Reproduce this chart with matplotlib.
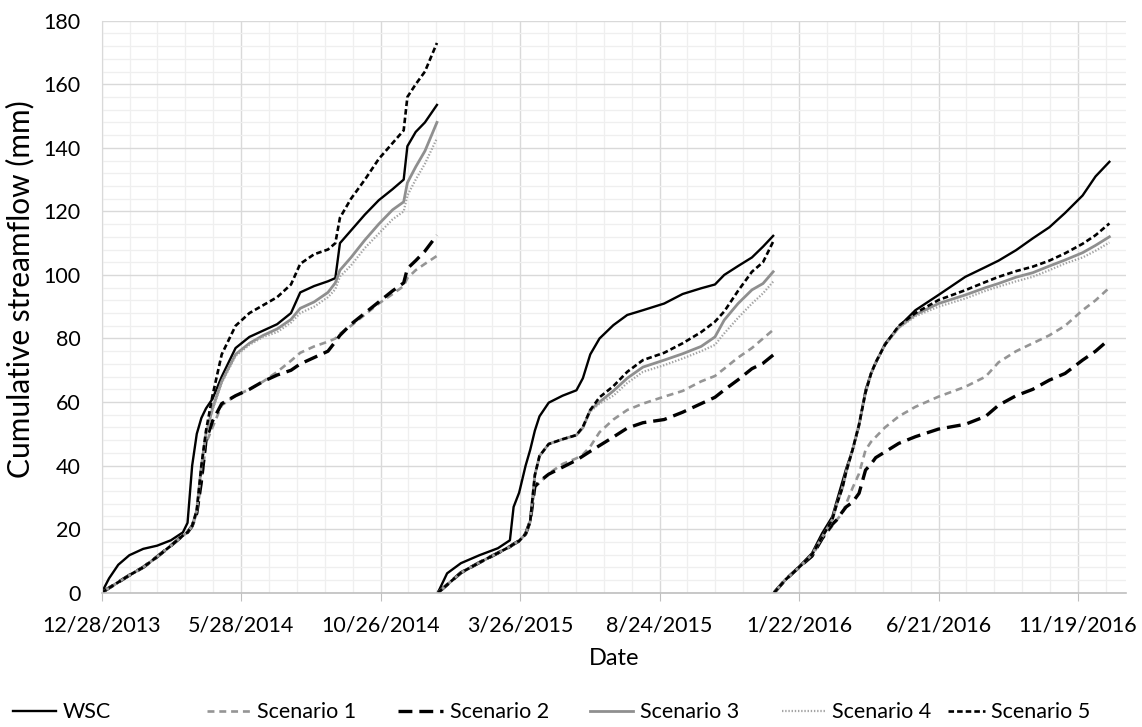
import numpy as np
import matplotlib
matplotlib.use("Agg")
import matplotlib.pyplot as plt
import matplotlib.dates as mdates
from matplotlib.ticker import FixedLocator, MultipleLocator, FixedFormatter

plt.rcParams['font.family'] = ['Lato', 'DejaVu Sans']
plt.rcParams['lines.scale_dashes'] = False

# each year of record is plotted as its own cumulative curve
seg_start = ['2013-12-28', '2014-12-27', '2015-12-26']

days1 = [0, 8, 18, 30, 45, 60, 75, 88, 93, 98, 103, 108, 113, 120, 130, 145, 160, 175, 190, 205,
         215, 230, 245, 253, 258, 270, 285, 300, 315, 327, 331, 340, 350, 363]
wsc1 = [0, 4.5, 8.8, 11.8, 13.8, 14.8, 16.5, 19, 22, 40, 50, 55, 58, 61, 68, 77, 80.5, 82.5, 84.5, 88,
        94.5, 96.5, 98, 99, 110, 114, 119, 123.5, 127, 130, 140.5, 145, 148, 153.5]
sc1_1 = [0, 1.5, 3.3, 5.5, 8, 11.3, 14.8, 18, 19, 21, 25, 35, 47, 52, 59, 62, 64, 66.5, 69.5, 73,
         75.5, 77.5, 79, 80, 81.5, 84, 87.5, 91, 94, 96.5, 99, 101.5, 103.5, 106]
sc2_1 = [0, 1.5, 3.3, 5.5, 8, 11.3, 14.8, 18, 19, 21, 25, 35, 48, 54, 59.5, 62, 64, 66.5, 68.5, 70,
         72, 74, 76, 79, 81, 84.5, 88, 91.5, 95, 97.5, 102, 104.5, 107.5, 112.5]
sc3_1 = [0, 1.5, 3.3, 5.5, 8, 11.3, 14.8, 18, 19, 21, 26, 40, 50, 58, 66.5, 75, 78.5, 81, 83, 86,
         89.5, 91.5, 94.5, 97.5, 101.5, 105.5, 111, 116, 120.5, 123, 129, 134, 139, 148]
sc4_1 = [0, 1.5, 3.3, 5.5, 8, 11.3, 14.8, 18, 19, 21, 26, 40, 50, 57.5, 66, 74.5, 78, 80.5, 82, 85,
         88, 90, 93, 95.5, 99.5, 103, 108.5, 113, 117.5, 120, 125, 130, 135, 143]
sc5_1 = [0, 1.5, 3.3, 5.5, 8, 11.3, 14.8, 18, 19, 21, 26, 40, 51, 62, 75, 84, 88, 90.5, 93, 97,
         103.5, 106.5, 108, 110, 118, 124, 130, 136.5, 141.5, 145.5, 156, 160, 164, 173]

days2 = [0, 10, 25, 45, 65, 78, 82, 88, 95, 100, 105, 110, 120, 135, 150, 157, 165, 175, 190, 205,
         222, 245, 265, 285, 300, 310, 325, 340, 352, 363]
wsc2 = [0, 6.1, 9.3, 11.8, 14, 16.5, 27, 31.5, 40, 45, 51, 55.5, 59.8, 62, 63.7, 67.5, 75, 80, 84.2, 87.4,
        88.9, 91, 94, 95.8, 97, 100, 102.8, 105.5, 108.9, 112.3]
sc1_2 = [0, 2.5, 6.3, 9.5, 12.5, 14.5, 15.3, 16.3, 18.5, 22.5, 33.4, 34.5, 37.5, 40.5, 42.3, 43.5, 46, 50.5, 54.5, 57.5,
         59.5, 61.7, 63.5, 66.5, 68.2, 70.5, 74, 77, 80, 82.7]
sc2_2 = [0, 2.5, 6.3, 9.5, 12.5, 14.5, 15.3, 16.3, 18.5, 22.5, 33.4, 35, 37.3, 39.5, 41.7, 43, 44.5, 46.3, 49, 51.8,
         53.5, 54.5, 56.8, 59.5, 61.5, 63.8, 67, 70.5, 72.2, 74.8]
sc3_2 = [0, 2.5, 6.3, 9.5, 12.5, 14.5, 15.3, 16.3, 18.5, 22.5, 37, 43, 46.8, 48.3, 49.6, 51.9, 57.5, 60, 63.5, 67.5,
         71, 73.2, 75.2, 77.5, 80.5, 85.8, 91, 95.3, 97.3, 101]
sc4_2 = [0, 2.5, 6.3, 9.5, 12.5, 14.5, 15.3, 16.3, 18.5, 22.5, 37, 43, 46.8, 48.3, 49.6, 51.9, 57, 59.5, 62, 66,
         69.5, 71.6, 73.7, 76, 78, 81.6, 86.5, 91, 94.2, 97.9]
sc5_2 = [0, 2.5, 6.3, 9.5, 12.5, 14.5, 15.3, 16.3, 18.5, 22.5, 37, 43, 46.8, 48.3, 49.6, 52.2, 57.5, 61.5, 65, 69.5,
         73.2, 75.5, 78.5, 82, 85.3, 88.5, 95, 101, 104, 110.5]

days3 = [0, 12, 27, 41, 52, 63, 68, 74, 78, 85, 92, 99, 105, 110, 120, 135, 153, 178, 207, 229,
         243, 262, 280, 298, 315, 334, 348, 363]
wsc3 = [0, 4, 8.2, 12.4, 18.7, 23.9, 29, 35, 39, 45, 52.5, 63.8, 69, 72.2, 78.3, 83.7, 88.9, 93.7, 99.4, 102.5,
        104.5, 107.8, 111.5, 115, 119.5, 125, 131, 135.6]
sc1_3 = [0, 4, 8, 11.5, 17, 21, 23, 25, 28, 33, 37.5, 44.9, 47.5, 49, 52, 55.5, 58.5, 61.7, 64.8, 68,
         72.5, 76, 78.5, 81, 84, 88.9, 92, 96]
sc2_3 = [0, 4, 8, 11.5, 17, 21.5, 23, 25.5, 27, 28.5, 31.3, 38.6, 40.5, 42.5, 44.3, 47, 49.1, 51.5, 53, 55.5,
         59, 62, 64, 66.9, 69, 73.2, 76, 79.8]
sc3_3 = [0, 4, 8, 12, 17.5, 23, 28, 33, 38, 45, 53, 63, 69, 72.5, 78, 83.5, 87.5, 91, 93.7, 96,
         97.3, 99.3, 100.7, 102.8, 104.7, 107, 109.3, 112]
sc4_3 = [0, 4, 8, 12, 17.5, 23, 28, 33, 38, 45, 53, 63, 69, 72.5, 78, 83.3, 87, 90, 92.6, 95,
         96.3, 98, 99.4, 101.5, 103.6, 105.5, 107.6, 110.2]
sc5_3 = [0, 4, 8, 12, 17.5, 23, 28, 33, 38, 45, 53, 63, 69, 72.5, 78, 84, 88, 92.1, 95.2, 97.8,
         99.4, 101.2, 102.6, 104.5, 106.8, 109.8, 112.5, 116.2]

names = ['WSC', 'Scenario 1', 'Scenario 2', 'Scenario 3', 'Scenario 4', 'Scenario 5']
days = [days1, days2, days3]
series = [
    [wsc1, wsc2, wsc3],
    [sc1_1, sc1_2, sc1_3],
    [sc2_1, sc2_2, sc2_3],
    [sc3_1, sc3_2, sc3_3],
    [sc4_1, sc4_2, sc4_3],
    [sc5_1, sc5_2, sc5_3],
]
styles = [
    dict(color='black', lw=1.7, ls='-'),
    dict(color='#959595', lw=1.9, dashes=(5, 3.5)),
    dict(color='black', lw=2.4, dashes=(10, 5)),
    dict(color='#8f8f8f', lw=2.0, ls='-'),
    dict(color='#a3a3a3', lw=1.6, dashes=(1, 1.3)),
    dict(color='black', lw=1.9, dashes=(4, 2.2)),
]

fig = plt.figure(figsize=(11.42, 7.27), dpi=100)
ax = fig.add_axes([0.089, 0.1847, 0.897, 0.7868])

for name, segs, st in zip(names, series, styles):
    for k in range(3):
        t = np.datetime64(seg_start[k]) + np.array(days[k]).astype('timedelta64[D]')
        ax.plot(t, segs[k], label=name if k == 0 else None, **st)

# date axis with ticks every 151 days
start = np.datetime64('2013-12-28')
tick_dates = [start + np.timedelta64(151 * i, 'D') for i in range(8)]
tick_nums = mdates.date2num(tick_dates)
labels = []
for d in tick_dates:
    y, m, dd = str(d).split('-')
    labels.append(f"{int(m)}/{int(dd)}/{y}")
x0 = mdates.date2num(start)
ax.set_xlim(x0, x0 + 1109)
ax.xaxis.set_major_locator(FixedLocator(tick_nums))
ax.xaxis.set_major_formatter(FixedFormatter(labels))
ax.xaxis.set_minor_locator(FixedLocator(np.arange(x0, x0 + 1110, 151 / 5)))

ax.set_ylim(0, 180)
ax.yaxis.set_major_locator(MultipleLocator(20))
ax.yaxis.set_minor_locator(MultipleLocator(4))

ax.grid(which='major', color='#d9d9d9', lw=1.0)
ax.grid(which='minor', color='#efefef', lw=0.9)
ax.set_axisbelow(True)
for s in ['top', 'right']:
    ax.spines[s].set_visible(False)
ax.spines['left'].set_color('#d9d9d9')
ax.spines['bottom'].set_color('#bfbfbf')
ax.spines['bottom'].set_linewidth(1.2)

ax.tick_params(axis='x', which='major', length=6, color='#bfbfbf', labelsize=15.5, pad=10.5)
ax.tick_params(axis='y', which='major', length=0, labelsize=15.5, pad=15)
ax.tick_params(which='minor', length=0)

ax.set_xlabel('Date', fontsize=17, labelpad=9)
ax.set_ylabel('Cumulative streamflow (mm)', fontsize=21.5)
ax.yaxis.set_label_coords(-0.066, 0.53)

# legend entries laid out in one row under the axis
handles, labs = ax.get_legend_handles_labels()
leg_x = [13, 207, 398, 590, 782, 948]
leg_len = [2.0, 2.0, 2.1, 2.0, 2.0, 1.7]
for h, l, xp, hl in zip(handles, labs, leg_x, leg_len):
    fig.legend([h], [l], loc='center left', bbox_to_anchor=(xp / 1142, 0.02), frameon=False,
               fontsize=15.5, handlelength=hl, handletextpad=0.3, borderpad=0, borderaxespad=0)

fig.savefig('out.png', dpi=100)
